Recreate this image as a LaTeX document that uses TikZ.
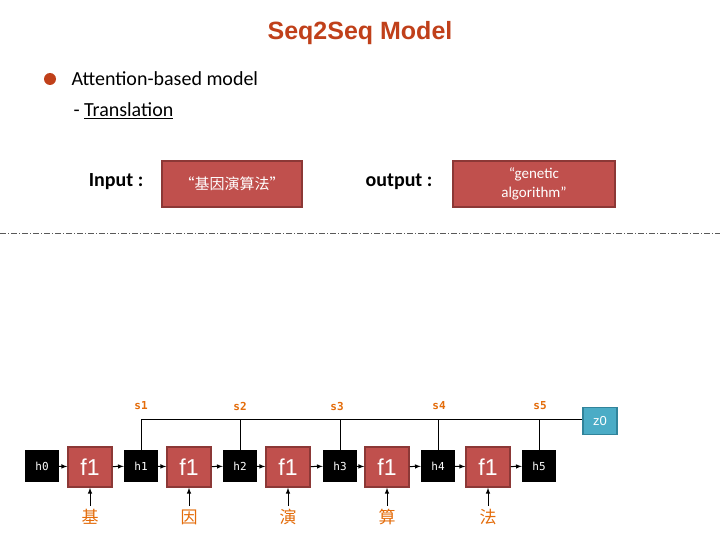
\documentclass[tikz,border=0pt]{standalone}
\usepackage{fontspec}
\setmainfont{Carlito}
\newfontfamily\arial{Liberation Sans}
\newfontfamily\mono{DejaVu Sans Mono}
\newfontfamily\cjk{Noto Sans CJK SC}
\definecolor{ttl}{HTML}{C0401A}
\definecolor{rbox}{HTML}{C0504D}
\definecolor{rbord}{HTML}{8C3836}
\definecolor{zbox}{HTML}{4BACC6}
\definecolor{zbord}{HTML}{31849B}
\definecolor{org}{HTML}{E46C0A}
\begin{document}
\begin{tikzpicture}[x=1pt,y=-1pt,
  rb/.style={draw=rbord,line width=1.5pt,fill=rbox,text=white},
  hb/.style={fill=black,text=white,minimum width=34pt,minimum height=32pt,inner sep=0pt,font=\mono\fontsize{11}{11}\selectfont},
  fb/.style={rb,minimum width=44pt,minimum height=40pt,inner sep=0pt,font=\arial\fontsize{23}{23}\selectfont},
  lab/.style={text=org,font=\mono\bfseries\fontsize{11}{11}\selectfont},
  ch/.style={text=org,font=\cjk\fontsize{17}{17}\selectfont},
  ar/.style={-latex,line width=1pt}]
\useasboundingbox[fill=white] (0,0) rectangle (720,540);
\node[text=ttl,font=\arial\bfseries\fontsize{25}{25}\selectfont] (title) at (360,33) {Seq2Seq Model};
\node[circle,fill=ttl,inner sep=0pt,minimum size=12pt] (dot) at (50,79) {};
\node[anchor=west,font=\fontsize{20}{20}\selectfont] (att) at (68,79) {Attention-based model};
\node[anchor=west,font=\fontsize{20}{20}\selectfont] (tr) at (70,111) {- \underline{Translation}};
\node[font=\bfseries\fontsize{20}{20}\selectfont] (in) at (116,182) {Input :};
\node[rb,minimum width=140pt,minimum height=46pt,font=\cjk\fontsize{15}{15}\selectfont] (inb) at (232,184) {“基因演算法”};
\node[font=\bfseries\fontsize{20}{20}\selectfont] (out) at (399,182) {output :};
\node[rb,minimum width=162pt,minimum height=46pt,align=center,font=\fontsize{15}{19}\selectfont] (outb) at (534,184) {“genetic\\algorithm”};
\draw[gray!70!black,line width=0.8pt,dash pattern=on 6pt off 2pt on 1pt off 2pt] (0,233) -- (720,233);
\foreach \i/\x in {0/42,1/141,2/240,3/340,4/438,5/539}{
  \node[hb] (h\i) at (\x,466) {h\i};}
\foreach \i/\x/\c in {1/90/基,2/189/因,3/288/演,4/387/算,5/488/法}{
  \node[fb] (f\i) at (\x,467) {f1};
  \node[ch] (c\i) at (\x,517) {\c};
  \draw[ar] (c\i) -- (f\i);}
\foreach \a/\b in {0/1,1/2,2/3,3/4,4/5}{
  \draw[ar] (h\a) -- (f\b);
  \draw[ar] (f\b) -- (h\b);}
\node[fill=zbox,draw=zbord,line width=1.5pt,text=white,minimum width=34pt,minimum height=27pt,inner sep=0pt,font=\arial\fontsize{13}{13}\selectfont] (z0) at (600,421) {z0};
\coordinate (L) at (141,419);
\draw[line width=0.6pt] (L) -- (z0.west |- L);
\foreach \i/\x in {1/141,2/240,3/337,4/439,5/540}{
  \node[lab] (s\i) at (\x,406) {s\i};
  \draw[line width=0.6pt] (h\i.north) -- (h\i.north |- L);}
\end{tikzpicture}
\end{document}
